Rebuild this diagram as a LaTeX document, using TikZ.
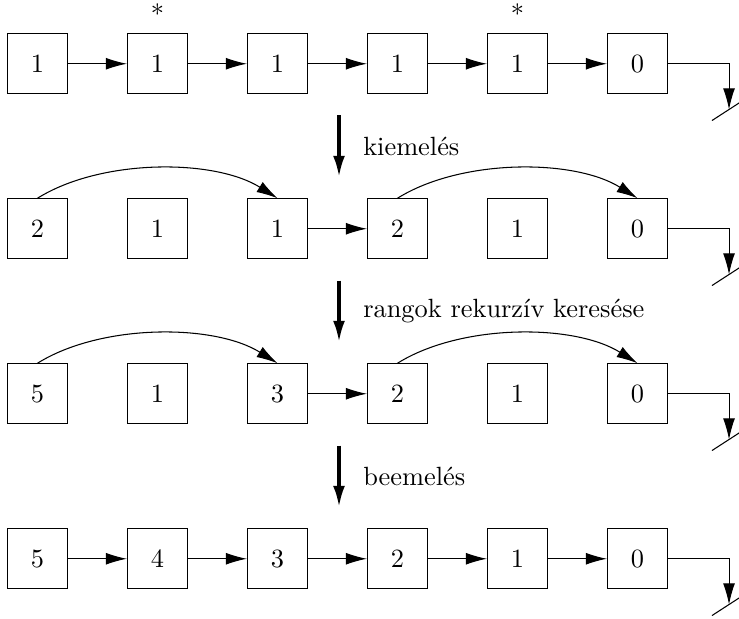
\documentclass[tikz,border=0pt]{standalone}
\usetikzlibrary{arrows.meta}

\tikzset{
  cell/.style={draw, minimum size=0.8cm, inner sep=0pt},
  link/.style={-{Latex[length=8pt,width=4.5pt]}},
  phase/.style={very thick, -{Latex[length=8pt,width=4.5pt]}}
}

\begin{document}
\begin{tikzpicture}

\useasboundingbox (0,0) rectangle (9.853,-8.253);

% Cells
\foreach \r/\vals in {1/{1,1,1,1,1,0}, 2/{2,1,1,2,1,0}, 3/{5,1,3,2,1,0}, 4/{5,4,3,2,1,0}}{
  \foreach \v [count=\c from 0] in \vals{
    \node [cell] (n\r-\c) at (0.5+1.6*\c, -0.85-2.2*\r+2.2) {$\v$};
  }
}

% Marked cells
\node [above] (star1) at (n1-1.north) {*};
\node [above] (star2) at (n1-4.north) {*};

% Links
\foreach \r in {1,4}{
  \foreach \a/\b in {0/1,1/2,2/3,3/4,4/5}{
    \draw [link] (n\r-\a.east) -- (n\r-\b.west);
  }
}
\foreach \r in {2,3}{
  \draw [link] (n\r-2.east) -- (n\r-3.west);
  \draw [link] (n\r-0.north) to [out=32,in=148,looseness=0.8] (n\r-2.north);
  \draw [link] (n\r-3.north) to [out=32,in=148,looseness=0.8] (n\r-5.north);
}

% Nil ends
\foreach \r in {1,2,3,4}{
  \coordinate (t\r) at (9.72, -0.85-2.2*\r+2.2);
  \coordinate (g\r) at (9.72, -1.46-2.2*\r+2.2);
  \draw [link] (n\r-5.east) -- (t\r) -- (g\r);
  \draw ([shift={(-0.227,-0.147)}]g\r) -- ([shift={(0.227,0.147)}]g\r);
}

% Phases
\foreach \k/\txt in {1/kiemelés, 2/rangok rekurzív keresése, 3/beemelés}{
  \coordinate (ps\k) at (4.52, -1.54-2.2*\k+2.2);
  \coordinate (pe\k) at (4.52, -2.36-2.2*\k+2.2);
  \draw [phase] (ps\k) -- (pe\k);
  \node [right] (pl\k) at (4.72, -1.95-2.2*\k+2.2) {\txt};
}

\end{tikzpicture}
\end{document}
